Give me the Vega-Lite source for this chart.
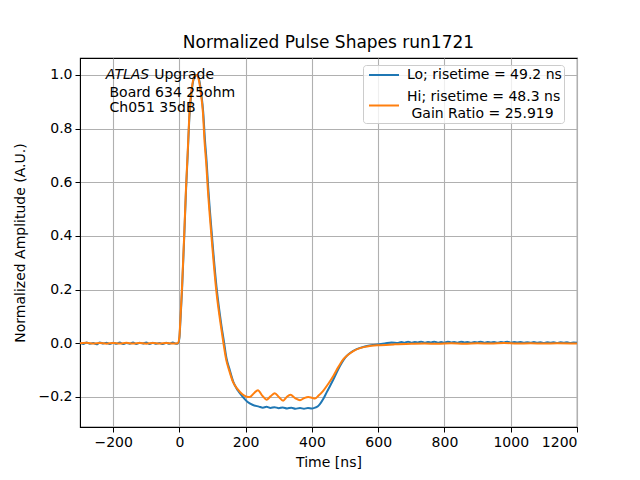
{
  "$schema": "https://vega.github.io/schema/vega-lite/v6.json",
  "description": "Normalized pulse shapes, Lo and Hi gain",
  "width": 497,
  "height": 369,
  "autosize": "none",
  "padding": {"left": 80, "top": 58, "right": 63, "bottom": 53},
  "background": "white",
  "title": {"text": "Normalized Pulse Shapes run1721", "fontSize": 17, "fontWeight": "normal", "font": "DejaVu Sans", "color": "black", "offset": 6},
  "config": {
    "view": {"stroke": "black", "strokeWidth": 1.1},
    "axis": {
      "labelFont": "DejaVu Sans", "labelFontSize": 14, "labelColor": "black",
      "titleFont": "DejaVu Sans", "titleFontSize": 14, "titleFontWeight": "normal", "titleColor": "black",
      "domainColor": "black", "tickColor": "black", "tickSize": 5, "labelPadding": 3,
      "gridColor": "#b0b0b0", "gridWidth": 1.1
    },
    "legend": {
      "labelFont": "DejaVu Sans", "labelFontSize": 14, "labelColor": "black", "labelLimit": 300
    }
  },
  "datasets": {
    "pulse": [
      {"s":"Lo","t":-300,"v":0.002},{"s":"Lo","t":-290,"v":-0.003},{"s":"Lo","t":-280,"v":0.003},{"s":"Lo","t":-270,"v":-0.002},
      {"s":"Lo","t":-260,"v":0.001},{"s":"Lo","t":-250,"v":-0.004},{"s":"Lo","t":-240,"v":0.003},{"s":"Lo","t":-230,"v":-0.001},
      {"s":"Lo","t":-220,"v":0.002},{"s":"Lo","t":-210,"v":-0.003},{"s":"Lo","t":-200,"v":0.002},{"s":"Lo","t":-190,"v":-0.002},
      {"s":"Lo","t":-180,"v":0.003},{"s":"Lo","t":-170,"v":-0.003},{"s":"Lo","t":-160,"v":0.001},{"s":"Lo","t":-150,"v":-0.002},
      {"s":"Lo","t":-140,"v":0.003},{"s":"Lo","t":-130,"v":-0.003},{"s":"Lo","t":-120,"v":0.002},{"s":"Lo","t":-110,"v":-0.001},
      {"s":"Lo","t":-100,"v":0.003},{"s":"Lo","t":-90,"v":-0.003},{"s":"Lo","t":-80,"v":0.002},{"s":"Lo","t":-70,"v":-0.002},
      {"s":"Lo","t":-60,"v":0.001},{"s":"Lo","t":-50,"v":-0.003},{"s":"Lo","t":-40,"v":0.002},{"s":"Lo","t":-30,"v":-0.002},
      {"s":"Lo","t":-20,"v":0.003},{"s":"Lo","t":-10,"v":-0.002},{"s":"Lo","t":-4,"v":0.0},
      {"s":"Lo","t":0,"v":0.02},{"s":"Lo","t":3,"v":0.08},{"s":"Lo","t":8,"v":0.2},{"s":"Lo","t":15,"v":0.41},
      {"s":"Lo","t":20,"v":0.57},{"s":"Lo","t":25,"v":0.7},{"s":"Lo","t":30,"v":0.84},{"s":"Lo","t":38,"v":0.95},
      {"s":"Lo","t":45,"v":0.99},{"s":"Lo","t":53,"v":1.0},{"s":"Lo","t":60,"v":0.98},{"s":"Lo","t":66,"v":0.93},
      {"s":"Lo","t":72,"v":0.86},{"s":"Lo","t":77,"v":0.76},{"s":"Lo","t":82,"v":0.68},{"s":"Lo","t":87,"v":0.58},
      {"s":"Lo","t":97,"v":0.42},{"s":"Lo","t":112,"v":0.21},{"s":"Lo","t":127,"v":0.065},{"s":"Lo","t":134,"v":0.01},
      {"s":"Lo","t":142,"v":-0.055},{"s":"Lo","t":152,"v":-0.1},{"s":"Lo","t":163,"v":-0.145},{"s":"Lo","t":176,"v":-0.175},
      {"s":"Lo","t":190,"v":-0.198},{"s":"Lo","t":205,"v":-0.218},{"s":"Lo","t":222,"v":-0.23},{"s":"Lo","t":240,"v":-0.236},
      {"s":"Lo","t":252,"v":-0.24},{"s":"Lo","t":263,"v":-0.237},{"s":"Lo","t":275,"v":-0.241},{"s":"Lo","t":287,"v":-0.238},
      {"s":"Lo","t":300,"v":-0.242},{"s":"Lo","t":312,"v":-0.239},{"s":"Lo","t":325,"v":-0.243},{"s":"Lo","t":338,"v":-0.24},
      {"s":"Lo","t":350,"v":-0.244},{"s":"Lo","t":364,"v":-0.241},{"s":"Lo","t":376,"v":-0.244},{"s":"Lo","t":388,"v":-0.241},
      {"s":"Lo","t":400,"v":-0.243},{"s":"Lo","t":409,"v":-0.24},{"s":"Lo","t":418,"v":-0.235},{"s":"Lo","t":424,"v":-0.227},
      {"s":"Lo","t":434,"v":-0.208},{"s":"Lo","t":444,"v":-0.184},{"s":"Lo","t":455,"v":-0.158},{"s":"Lo","t":465,"v":-0.134},
      {"s":"Lo","t":475,"v":-0.108},{"s":"Lo","t":485,"v":-0.084},{"s":"Lo","t":495,"v":-0.063},{"s":"Lo","t":505,"v":-0.047},
      {"s":"Lo","t":520,"v":-0.032},{"s":"Lo","t":535,"v":-0.022},{"s":"Lo","t":560,"v":-0.012},{"s":"Lo","t":586,"v":-0.006},
      {"s":"Lo","t":620,"v":-0.001},{"s":"Lo","t":640,"v":0.003},{"s":"Lo","t":660,"v":0.001},{"s":"Lo","t":670,"v":0.005},
      {"s":"Lo","t":680,"v":0.002},{"s":"Lo","t":690,"v":0.006},{"s":"Lo","t":700,"v":0.002},{"s":"Lo","t":710,"v":0.005},
      {"s":"Lo","t":720,"v":0.003},{"s":"Lo","t":730,"v":0.006},{"s":"Lo","t":740,"v":0.002},{"s":"Lo","t":750,"v":0.005},
      {"s":"Lo","t":760,"v":0.003},{"s":"Lo","t":770,"v":0.006},{"s":"Lo","t":780,"v":0.002},{"s":"Lo","t":790,"v":0.005},
      {"s":"Lo","t":800,"v":0.002},{"s":"Lo","t":810,"v":0.006},{"s":"Lo","t":820,"v":0.003},{"s":"Lo","t":830,"v":0.005},
      {"s":"Lo","t":840,"v":0.002},{"s":"Lo","t":850,"v":0.006},{"s":"Lo","t":860,"v":0.003},{"s":"Lo","t":870,"v":0.005},
      {"s":"Lo","t":880,"v":0.002},{"s":"Lo","t":890,"v":0.005},{"s":"Lo","t":900,"v":0.003},{"s":"Lo","t":910,"v":0.006},
      {"s":"Lo","t":920,"v":0.002},{"s":"Lo","t":930,"v":0.005},{"s":"Lo","t":940,"v":0.003},{"s":"Lo","t":950,"v":0.005},
      {"s":"Lo","t":960,"v":0.002},{"s":"Lo","t":970,"v":0.005},{"s":"Lo","t":980,"v":0.003},{"s":"Lo","t":990,"v":0.006},
      {"s":"Lo","t":1000,"v":0.002},{"s":"Lo","t":1010,"v":0.005},{"s":"Lo","t":1020,"v":0.003},{"s":"Lo","t":1030,"v":0.005},
      {"s":"Lo","t":1040,"v":0.002},{"s":"Lo","t":1050,"v":0.004},{"s":"Lo","t":1060,"v":0.002},{"s":"Lo","t":1070,"v":0.005},
      {"s":"Lo","t":1080,"v":0.002},{"s":"Lo","t":1090,"v":0.004},{"s":"Lo","t":1100,"v":0.001},{"s":"Lo","t":1110,"v":0.004},
      {"s":"Lo","t":1120,"v":0.002},{"s":"Lo","t":1130,"v":0.004},{"s":"Lo","t":1140,"v":0.001},{"s":"Lo","t":1150,"v":0.004},
      {"s":"Lo","t":1160,"v":0.002},{"s":"Lo","t":1170,"v":0.004},{"s":"Lo","t":1180,"v":0.001},{"s":"Lo","t":1190,"v":0.003},
      {"s":"Lo","t":1200,"v":0.002},

      {"s":"Hi","t":-300,"v":0.0},{"s":"Hi","t":-280,"v":0.0015},{"s":"Hi","t":-260,"v":-0.001},{"s":"Hi","t":-240,"v":0.001},
      {"s":"Hi","t":-220,"v":-0.0015},{"s":"Hi","t":-200,"v":0.001},{"s":"Hi","t":-180,"v":-0.001},{"s":"Hi","t":-160,"v":0.0015},
      {"s":"Hi","t":-140,"v":-0.001},{"s":"Hi","t":-120,"v":0.001},{"s":"Hi","t":-100,"v":-0.0015},{"s":"Hi","t":-80,"v":0.001},
      {"s":"Hi","t":-60,"v":-0.001},{"s":"Hi","t":-40,"v":0.001},{"s":"Hi","t":-20,"v":-0.001},{"s":"Hi","t":-5,"v":0.0},
      {"s":"Hi","t":0,"v":0.025},{"s":"Hi","t":3,"v":0.09},{"s":"Hi","t":8,"v":0.21},{"s":"Hi","t":15,"v":0.42},
      {"s":"Hi","t":20,"v":0.58},{"s":"Hi","t":25,"v":0.71},{"s":"Hi","t":30,"v":0.85},{"s":"Hi","t":38,"v":0.955},
      {"s":"Hi","t":45,"v":0.993},{"s":"Hi","t":52,"v":1.0},{"s":"Hi","t":58,"v":0.985},{"s":"Hi","t":65,"v":0.93},
      {"s":"Hi","t":71,"v":0.86},{"s":"Hi","t":76,"v":0.75},{"s":"Hi","t":81,"v":0.67},{"s":"Hi","t":86,"v":0.57},
      {"s":"Hi","t":96,"v":0.41},{"s":"Hi","t":111,"v":0.2},{"s":"Hi","t":126,"v":0.058},{"s":"Hi","t":133,"v":0.0},
      {"s":"Hi","t":141,"v":-0.06},{"s":"Hi","t":150,"v":-0.1},{"s":"Hi","t":162,"v":-0.145},{"s":"Hi","t":175,"v":-0.17},
      {"s":"Hi","t":190,"v":-0.19},{"s":"Hi","t":203,"v":-0.199},{"s":"Hi","t":212,"v":-0.2},{"s":"Hi","t":225,"v":-0.186},
      {"s":"Hi","t":237,"v":-0.175},{"s":"Hi","t":250,"v":-0.195},{"s":"Hi","t":263,"v":-0.21},{"s":"Hi","t":275,"v":-0.198},
      {"s":"Hi","t":288,"v":-0.186},{"s":"Hi","t":300,"v":-0.2},{"s":"Hi","t":313,"v":-0.214},{"s":"Hi","t":324,"v":-0.2},
      {"s":"Hi","t":335,"v":-0.192},{"s":"Hi","t":350,"v":-0.205},{"s":"Hi","t":364,"v":-0.212},{"s":"Hi","t":377,"v":-0.204},
      {"s":"Hi","t":389,"v":-0.2},{"s":"Hi","t":400,"v":-0.203},{"s":"Hi","t":409,"v":-0.206},{"s":"Hi","t":420,"v":-0.195},
      {"s":"Hi","t":434,"v":-0.177},{"s":"Hi","t":450,"v":-0.15},{"s":"Hi","t":465,"v":-0.121},{"s":"Hi","t":480,"v":-0.088},
      {"s":"Hi","t":495,"v":-0.059},{"s":"Hi","t":510,"v":-0.042},{"s":"Hi","t":525,"v":-0.029},{"s":"Hi","t":545,"v":-0.018},
      {"s":"Hi","t":566,"v":-0.012},{"s":"Hi","t":606,"v":-0.007},{"s":"Hi","t":650,"v":-0.004},{"s":"Hi","t":700,"v":-0.002},
      {"s":"Hi","t":740,"v":-0.001},{"s":"Hi","t":780,"v":-0.002},{"s":"Hi","t":820,"v":0.0},{"s":"Hi","t":860,"v":-0.002},
      {"s":"Hi","t":900,"v":0.0},{"s":"Hi","t":940,"v":-0.001},{"s":"Hi","t":980,"v":0.001},{"s":"Hi","t":1020,"v":-0.001},
      {"s":"Hi","t":1060,"v":0.0},{"s":"Hi","t":1100,"v":-0.001},{"s":"Hi","t":1140,"v":0.0},{"s":"Hi","t":1200,"v":-0.001}
    ]
  },
  "layer": [
    {
      "data": {"name": "pulse"},
      "transform": [{"filter": "datum.s == 'Lo'"}],
      "mark": {"type": "line", "strokeWidth": 2, "interpolate": "monotone"},
      "encoding": {
        "x": {
          "field": "t", "type": "quantitative", "title": "Time [ns]",
          "scale": {"domain": [-300, 1200], "nice": false, "zero": false},
          "axis": {"values": [-200, 0, 200, 400, 600, 800, 1000, 1200], "format": "d", "titlePadding": 6}
        },
        "y": {
          "field": "v", "type": "quantitative", "title": "Normalized Amplitude (A.U.)",
          "scale": {"domain": [-0.312, 1.063], "nice": false, "zero": false},
          "axis": {"values": [-0.2, 0, 0.2, 0.4, 0.6, 0.8, 1.0], "format": ".1f", "titlePadding": 11}
        },
        "color": {
          "field": "s", "type": "nominal",
          "scale": {"domain": ["Lo", "Hi"], "range": ["#1f77b4", "#ff7f0e"]},
          "legend": {
            "title": null, "orient": "none", "legendX": 283, "legendY": 7,
            "symbolType": "stroke", "symbolSize": 900, "symbolStrokeWidth": 2,
            "labelExpr": "datum.label == 'Lo' ? 'Lo; risetime = 49.2 ns' : ['Hi; risetime = 48.3 ns', '\u200b\u00a0Gain Ratio = 25.919']",
            "fillColor": "rgba(255,255,255,0.8)", "strokeColor": "#cccccc", "cornerRadius": 3,
            "padding": 2, "rowPadding": 6, "clipHeight": 16, "symbolOffset": 3, "labelOffset": 7,
            "encode": {
              "symbols": {"update": {"y": {"signal": "datum.value == 'Hi' ? 16.5 : 8"}}},
              "labels": {"update": {"lineHeight": {"value": 17}}}
            }
          }
        }
      }
    },
    {
      "data": {"name": "pulse"},
      "transform": [{"filter": "datum.s == 'Hi'"}],
      "mark": {"type": "line", "strokeWidth": 2, "interpolate": "monotone"},
      "encoding": {
        "x": {"field": "t", "type": "quantitative"},
        "y": {"field": "v", "type": "quantitative"},
        "color": {"field": "s", "type": "nominal"}
      }
    },
    {
      "data": {"values": [{"note": "ATLAS"}]},
      "mark": {"type": "text", "align": "left", "baseline": "alphabetic", "font": "DejaVu Sans", "fontSize": 14, "fontStyle": "italic", "color": "black"},
      "encoding": {
        "x": {"datum": -222, "type": "quantitative"},
        "y": {"datum": 0.985, "type": "quantitative"},
        "text": {"field": "note", "type": "nominal"}
      }
    },
    {
      "data": {"values": [{"note": "Upgrade"}]},
      "mark": {"type": "text", "align": "left", "baseline": "alphabetic", "font": "DejaVu Sans", "fontSize": 14, "color": "black"},
      "encoding": {
        "x": {"datum": -76, "type": "quantitative"},
        "y": {"datum": 0.985, "type": "quantitative"},
        "text": {"field": "note", "type": "nominal"}
      }
    },
    {
      "data": {"values": [{"note": "Board 634 25ohm", "ty": 0.919}, {"note": "Ch051 35dB", "ty": 0.861}]},
      "mark": {"type": "text", "align": "left", "baseline": "alphabetic", "font": "DejaVu Sans", "fontSize": 14, "color": "black"},
      "encoding": {
        "x": {"datum": -211, "type": "quantitative"},
        "y": {"field": "ty", "type": "quantitative"},
        "text": {"field": "note", "type": "nominal"}
      }
    }
  ]
}
